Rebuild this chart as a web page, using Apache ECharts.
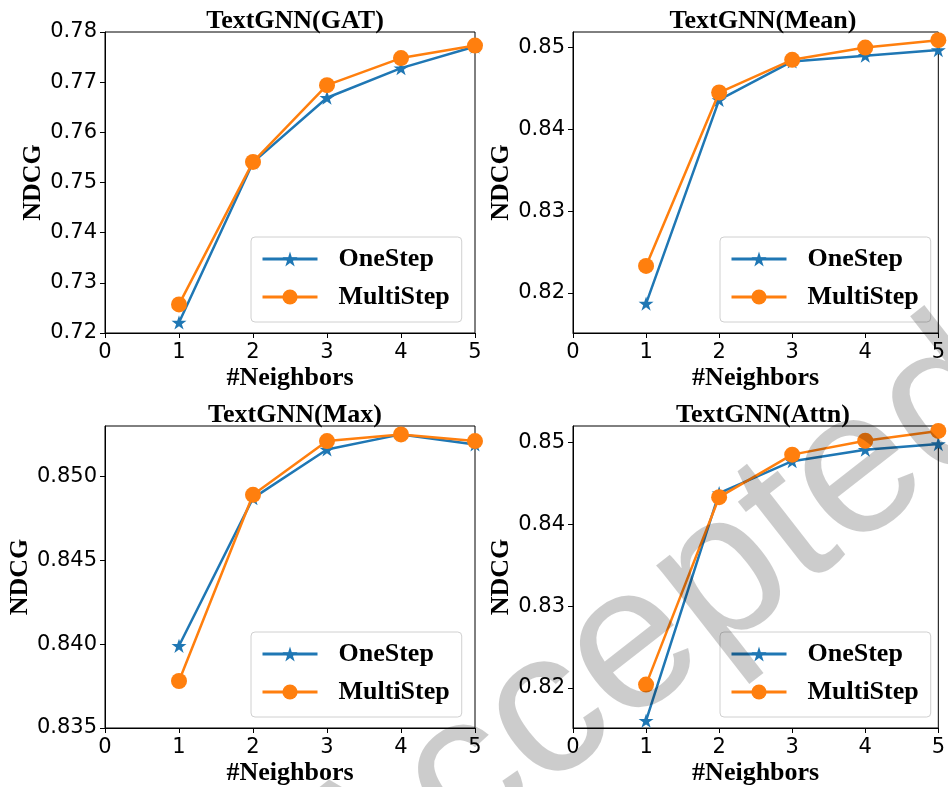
<!DOCTYPE html>
<html>
<head>
<meta charset="utf-8">
<script src="https://cdn.jsdelivr.net/npm/echarts@6/dist/echarts.min.js"></script>
<style>
  html, body { margin: 0; padding: 0; background: #fff; }
  #chart { width: 948px; height: 787px; }
</style>
</head>
<body>
<div id="chart"></div>
<script>
// values
const neighbors = [1, 2, 3, 4, 5];
const xTicks = [0, 1, 2, 3, 4, 5];

const gatOneStep = [0.7221, 0.7540, 0.7669, 0.7728, 0.7771];
const gatMultiStep = [0.7257, 0.7541, 0.7694, 0.7748, 0.7773];
const meanOneStep = [0.8187, 0.8436, 0.8483, 0.8490, 0.8497];
const meanMultiStep = [0.8233, 0.8445, 0.8485, 0.8500, 0.8509];
const maxOneStep = [0.8399, 0.8487, 0.8516, 0.8525, 0.8519];
const maxMultiStep = [0.8378, 0.8489, 0.8521, 0.8525, 0.8521];
const attnOneStep = [0.8160, 0.8438, 0.8477, 0.8491, 0.8498];
const attnMultiStep = [0.8204, 0.8433, 0.8485, 0.8502, 0.8514];

const gatTicks = [0.72, 0.73, 0.74, 0.75, 0.76, 0.77, 0.78];
const meanTicks = [0.82, 0.83, 0.84, 0.85];
const maxTicks = [0.835, 0.840, 0.845, 0.850];
const attnTicks = [0.82, 0.83, 0.84, 0.85];

const titles = ["TextGNN(GAT)", "TextGNN(Mean)", "TextGNN(Max)", "TextGNN(Attn)"];

var chartDom = document.getElementById("chart");
var myChart = echarts.init(chartDom, null, { renderer: "canvas" });

const serif = "Liberation Serif";
const sans = "DejaVu Sans";
const blue = "#1f77b4";
const orange = "#ff7f0e";
const star = "path://M100,0 L122.45,69.1 L195.1,69.1 L136.3,111.8 L158.8,180.9 L100,138.2 L41.2,180.9 L63.7,111.8 L4.9,69.1 L77.55,69.1 Z";

// panel boxes: left, top, width, height
const boxes = [
  [105, 32, 370, 301],
  [573, 32, 370, 301],
  [105, 426, 370, 302],
  [573, 426, 370, 302],
];
const yRanges = [
  [0.72, 0.78],
  [0.8151, 0.8519],
  [0.835, 0.853],
  [0.8151, 0.852],
];
const yTicks = [gatTicks, meanTicks, maxTicks, attnTicks];
const yDigits = [2, 2, 3, 2];
const oneStep = [gatOneStep, meanOneStep, maxOneStep, attnOneStep];
const multiStep = [gatMultiStep, meanMultiStep, maxMultiStep, attnMultiStep];

let grid = [], xAxis = [], yAxis = [], series = [], title = [], legend = [];

for (let i = 0; i < 4; i++) {
  const b = boxes[i];
  grid.push({
    left: b[0], top: b[1], width: b[2], height: b[3],
    show: true, borderColor: "#000", borderWidth: 1, backgroundColor: "transparent",
  });
  title.push({
    text: titles[i],
    left: b[0] + b[2] / 2,
    top: b[1] - 29,
    textAlign: "center",
    textStyle: { fontFamily: serif, fontWeight: "bold", fontSize: 26, color: "#000" },
  });
  xAxis.push({
    type: "value", gridIndex: i, min: 0, max: 5,
    name: "#Neighbors", nameLocation: "middle", nameGap: 32,
    nameTextStyle: { fontFamily: serif, fontWeight: "bold", fontSize: 26, color: "#000" },
    axisLine: { show: true, lineStyle: { color: "#000", width: 1 } },
    axisTick: { show: true, length: 5, lineStyle: { color: "#000" }, customValues: xTicks },
    axisLabel: { fontFamily: sans, fontSize: 21, color: "#000", margin: 9, customValues: xTicks },
    splitLine: { show: false },
  });
  yAxis.push({
    type: "value", gridIndex: i, min: yRanges[i][0], max: yRanges[i][1],
    name: "NDCG", nameLocation: "middle", nameGap: 56, nameRotate: 90,
    nameTextStyle: { fontFamily: serif, fontWeight: "bold", fontSize: 26, color: "#000" },
    axisLine: { show: true, lineStyle: { color: "#000", width: 1 } },
    axisTick: { show: true, length: 5, lineStyle: { color: "#000" }, customValues: yTicks[i] },
    axisLabel: {
      fontFamily: sans, fontSize: 21, color: "#000", margin: 8,
      customValues: yTicks[i],
      formatter: ((d) => (v) => v.toFixed(d))(yDigits[i]),
    },
    splitLine: { show: false },
  });
  series.push({
    name: "OneStep", type: "line", xAxisIndex: i, yAxisIndex: i,
    data: neighbors.map((n, k) => [n, oneStep[i][k]]),
    symbol: star, symbolSize: 15, symbolKeepAspect: true,
    lineStyle: { color: blue, width: 2.5 },
    itemStyle: { color: blue },
    z: 2,
  });
  series.push({
    name: "MultiStep", type: "line", xAxisIndex: i, yAxisIndex: i,
    data: neighbors.map((n, k) => [n, multiStep[i][k]]),
    symbol: "circle", symbolSize: 16,
    lineStyle: { color: orange, width: 2.5 },
    itemStyle: { color: orange },
    z: 3,
  });
  legend.push({
    data: ["OneStep", "MultiStep"],
    orient: "vertical",
    left: i % 2 === 0 ? 251 : 720,
    top: i < 2 ? 237 : 632,
    padding: [9, 12, 12, 10],
    itemGap: 12,
    itemWidth: 55,
    itemHeight: 19,
    borderColor: "#d0d0d0",
    borderWidth: 1,
    borderRadius: 4,
    backgroundColor: "rgba(255,255,255,0.8)",
    lineStyle: { width: 3 },
    textStyle: { fontFamily: serif, fontWeight: "bold", fontSize: 26, color: "#000", padding: [0, 0, 0, 16] },
  });
}

let option = {
  backgroundColor: "#fff",
  animation: false,
  title: title,
  grid: grid,
  xAxis: xAxis,
  yAxis: yAxis,
  legend: legend,
  series: series,
  // grey "Accepted" stamp laid over the figure
  graphic: [
    {
      type: "text",
      x: 655,
      y: 632,
      rotation: (38 * Math.PI) / 180,
      z: 100,
      silent: true,
      style: {
        text: "Accepted",
        font: '205px "Liberation Sans"',
        fill: "rgba(0,0,0,0.2)",
        align: "center",
        verticalAlign: "middle",
      },
    },
  ],
};

option && myChart.setOption(option);
</script>
</body>
</html>
